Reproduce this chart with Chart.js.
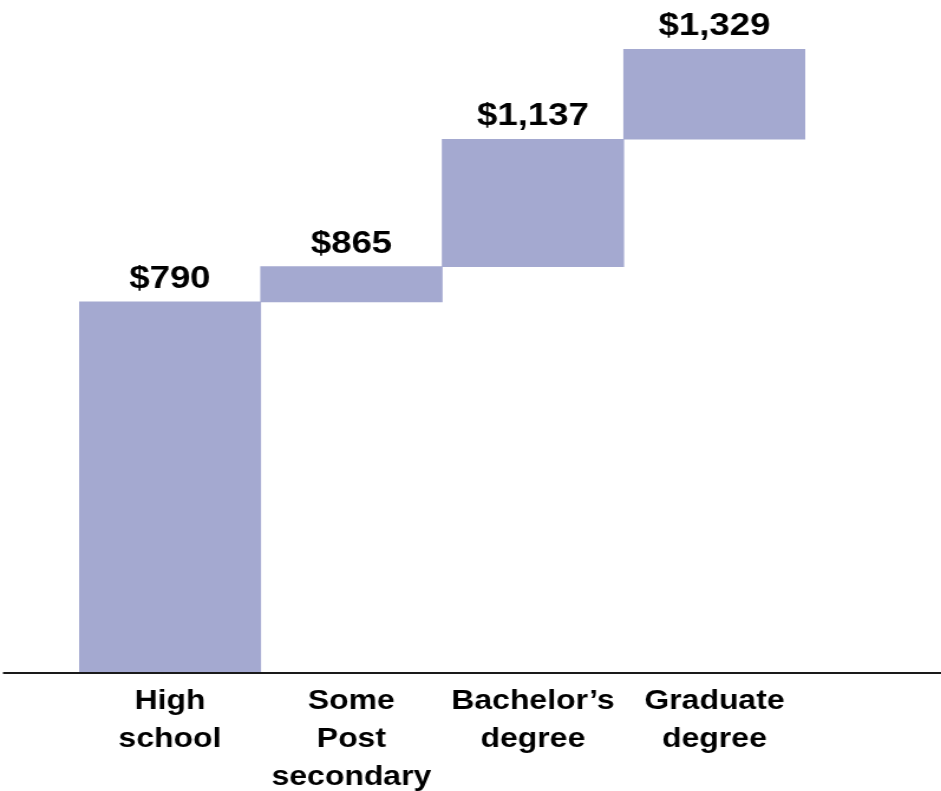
<!DOCTYPE html>
<html>
<head>
<meta charset="utf-8">
<title>Median weekly earnings by education</title>
<script src="https://cdn.jsdelivr.net/npm/chart.js@4"></script>
<style>
    html, body { margin: 0; padding: 0; background: #ffffff; overflow: hidden; }
    /* the slide art is set in a wide aspect, so the drawing is stretched sideways */
    #wrap {
        width: 797px;
        height: 791px;
        transform: scaleX(1.1807);
        transform-origin: 0 0;
    }
</style>
</head>
<body>
<div id="wrap"><canvas id="earningsChart" width="797" height="791"></canvas></div>
<script>
// ===================================
// DATA
// ===================================

const categories = [
    ['High', 'school'],
    ['Some', 'Post', 'secondary'],
    ['Bachelor\u2019s', 'degree'],
    ['Graduate', 'degree']
];

// cumulative earnings level reached at each step
const levels = [790, 865, 1137, 1329];

const BAR_COLOR = '#A4A9D0';
const TEXT_COLOR = '#000000';
const FONT_FAMILY = 'Arial, "Liberation Sans", Helvetica, sans-serif';

// each step floats from the previous level to its own
const steps = levels.map((v, i) => [i === 0 ? 0 : levels[i - 1], v]);

const formatMoney = v => '$' + v.toLocaleString('en-US');

// ===================================
// PLUGINS
// ===================================

// value labels sitting above each step
const stepLabels = {
    id: 'stepLabels',
    afterDatasetsDraw(chart) {
        const ctx = chart.ctx;
        const meta = chart.getDatasetMeta(0);
        ctx.save();
        ctx.font = 'bold 31px ' + FONT_FAMILY;
        ctx.fillStyle = TEXT_COLOR;
        ctx.textAlign = 'center';
        ctx.textBaseline = 'alphabetic';
        meta.data.forEach((bar, i) => {
            ctx.fillText(formatMoney(levels[i]), bar.x, bar.y - 14);
        });
        ctx.restore();
    }
};

// baseline running the whole width of the page
const baseLine = {
    id: 'baseLine',
    afterDraw(chart) {
        const ctx = chart.ctx;
        const y = chart.chartArea.bottom + 1;
        ctx.save();
        ctx.strokeStyle = '#1a1a1a';
        ctx.lineWidth = 2;
        ctx.beginPath();
        ctx.moveTo(2.5, y);
        ctx.lineTo(chart.width, y);
        ctx.stroke();
        ctx.restore();
    }
};

// ===================================
// CHART
// ===================================

new Chart(document.getElementById('earningsChart'), {
    type: 'bar',
    data: {
        labels: categories,
        datasets: [{
            data: steps,
            backgroundColor: BAR_COLOR,
            borderWidth: 0,
            borderSkipped: false,
            barPercentage: 1,
            categoryPercentage: 1
        }]
    },
    options: {
        responsive: false,
        animation: false,
        layout: {
            padding: { top: 16, left: 67, right: 115, bottom: 0 }
        },
        plugins: {
            legend: { display: false },
            tooltip: { enabled: false }
        },
        scales: {
            x: {
                grid: { display: false },
                border: { display: false },
                ticks: {
                    color: TEXT_COLOR,
                    padding: 3,
                    maxRotation: 0,
                    autoSkip: false,
                    font: { family: FONT_FAMILY, size: 27, weight: 'bold', lineHeight: 1.4 }
                },
                afterFit(scale) {
                    scale.height = 119;
                }
            },
            y: {
                display: false,
                min: 0,
                max: 1400
            }
        }
    },
    plugins: [stepLabels, baseLine]
});
</script>
</body>
</html>
